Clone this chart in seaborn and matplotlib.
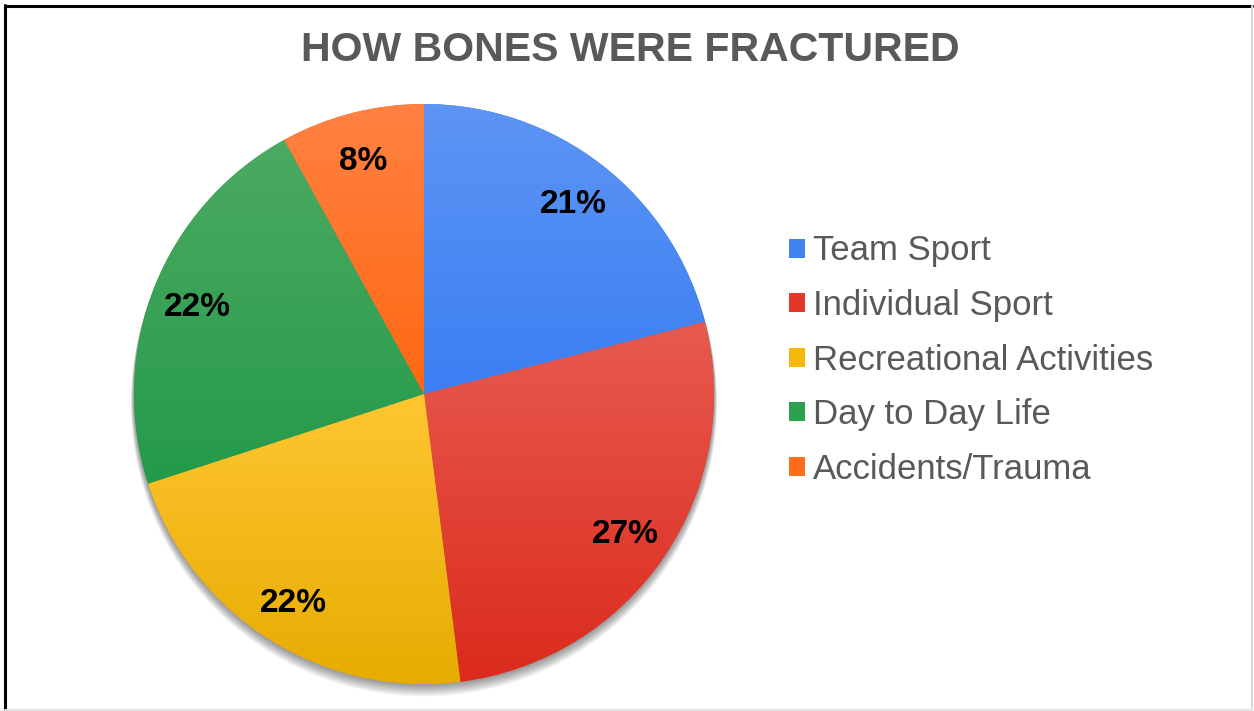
import numpy as np
import pandas as pd
import seaborn as sns
import matplotlib.pyplot as plt
from matplotlib.colors import LinearSegmentedColormap
from matplotlib.patches import Circle, Patch
from matplotlib.lines import Line2D

# Share of fractures by cause (percent)
categories = ["Team Sport", "Individual Sport", "Recreational Activities",
              "Day to Day Life", "Accidents/Trauma"]
shares = [21, 27, 22, 22, 8]

# Each slice fades from a lighter tone at its top to a deeper tone at its bottom
top_colors = ["#5d95f4", "#e85a50", "#ffc632", "#4caa62", "#ff8142"]
bottom_colors = ["#3b7ff3", "#db2b1c", "#e6ab00", "#249a4a", "#ff6812"]
legend_colors = ["#3f82f2", "#e2372b", "#f7b80d", "#2ba04f", "#ff6c1c"]

chart_title = "HOW BONES WERE FRACTURED"

df = pd.DataFrame({"category": categories, "share": shares})

sns.set_theme(style="white")
plt.rcParams["font.family"] = ["Liberation Sans", "DejaVu Sans"]

W, H = 1254, 711
fig = plt.figure(figsize=(W / 100, H / 100), dpi=100)
fig.patch.set_facecolor("white")

# Pie axes: center (424, 394) px, radius 290 px
cx, cy, R = 424, 394, 290
half = 330
ax = fig.add_axes([(cx - half) / W, (H - cy - half) / H, 2 * half / W, 2 * half / H])
lim = half / R
ax.set_xlim(-lim, lim)
ax.set_ylim(-lim, lim)
ax.set_aspect("equal")
ax.axis("off")

# Soft drop shadow, mostly below the pie
for k in range(10):
    ax.add_patch(Circle((0.0, -0.0035 * k), 1.0 + 0.0012 * k, facecolor="#000000",
                        alpha=0.05, edgecolor="none", zorder=0))

wedges, texts, autotexts = ax.pie(
    df["share"], colors=legend_colors, startangle=90, counterclock=False,
    radius=1.0, autopct=lambda p: f"{p:.0f}%", pctdistance=0.84,
    wedgeprops=dict(linewidth=0, edgecolor="none"),
    textprops=dict(color="black", fontsize=24, fontweight="bold"),
)

grad = np.linspace(0, 1, 256).reshape(-1, 1)
for w, ctop, cbot in zip(wedges, top_colors, bottom_colors):
    w.set_zorder(1)
    verts = w.get_path().vertices
    ymin, ymax = verts[:, 1].min(), verts[:, 1].max()
    cmap = LinearSegmentedColormap.from_list("g", [cbot, ctop])
    im = ax.imshow(grad, cmap=cmap, origin="lower", aspect="auto",
                   extent=[-1.01, 1.01, ymin, ymax], zorder=2, interpolation="bilinear")
    im.set_clip_path(w)

for t in autotexts:
    t.set_zorder(5)
    x, y = t.get_position()
    t.set_position((x, y - 0.012))

ax.set_xlim(-lim, lim)
ax.set_ylim(-lim, lim)

# Title
fig.text(630 / W, 1 - 50 / H, chart_title, ha="center", va="center",
         fontsize=29.5, fontweight="bold", color="#595959")

# Legend
handles = [Patch(facecolor=c, edgecolor="none") for c in legend_colors]
fig.legend(handles, categories, loc="center left",
           bbox_to_anchor=(789 / W, 1 - 360 / H), bbox_transform=fig.transFigure,
           frameon=False, fontsize=25, labelcolor="#595959",
           handlelength=0.46, handleheight=0.46, handletextpad=0.22,
           labelspacing=0.62, borderpad=0, borderaxespad=0)

# Frame around the chart area
fig.add_artist(Line2D([5 / W, 5 / W], [0, 1 - 5 / H], color="black", lw=2.2,
                      transform=fig.transFigure))
fig.add_artist(Line2D([5 / W, 1252 / W], [1 - 6 / H, 1 - 6 / H], color="black", lw=2.2,
                      transform=fig.transFigure))
fig.add_artist(Line2D([1252 / W, 1252 / W], [1 / H, 1 - 6 / H], color="#d9d9d9", lw=1.5,
                      transform=fig.transFigure))
fig.add_artist(Line2D([5 / W, 1252 / W], [1.5 / H, 1.5 / H], color="#e0e0e0", lw=1.5,
                      transform=fig.transFigure))

fig.savefig("out.png", dpi=100, facecolor="white")
